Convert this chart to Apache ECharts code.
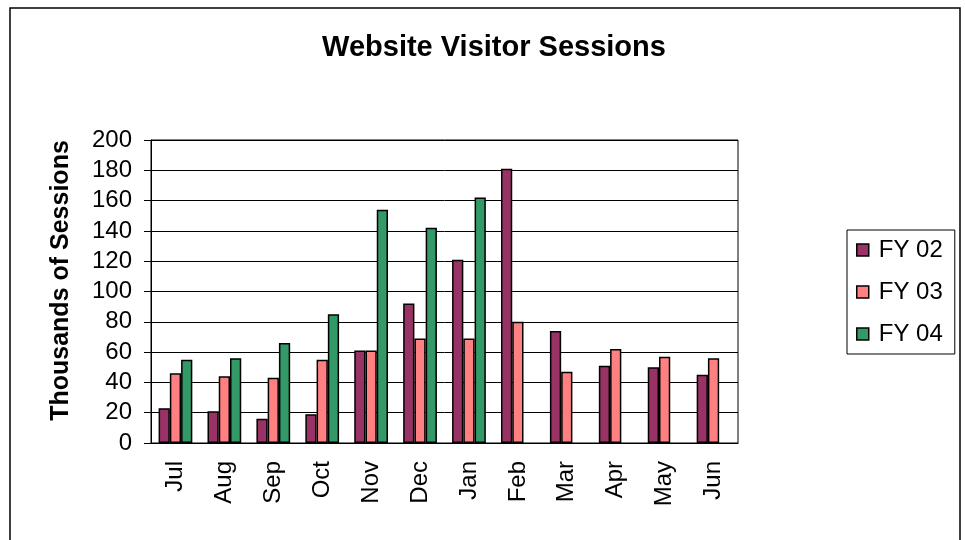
<!DOCTYPE html>
<html>
<head>
<meta charset="utf-8">
<script src="https://cdn.jsdelivr.net/npm/echarts@6/dist/echarts.min.js"></script>
<style>
  html, body { margin: 0; padding: 0; background: #fff; }
  #main { width: 965px; height: 540px; }
</style>
</head>
<body>
<div id="main"></div>
<script>
var months = ["Jul", "Aug", "Sep", "Oct", "Nov", "Dec", "Jan", "Feb", "Mar", "Apr", "May", "Jun"];
var fy02 = [23, 21, 16, 19, 61, 92, 121, 181, 74, 51, 50, 45];
var fy03 = [46, 44, 43, 55, 61, 69, 69, 80, 47, 62, 57, 56];
var fy04 = [55, 56, 66, 85, 154, 142, 162, null, null, null, null, null];
var yTicks = [0, 20, 40, 60, 80, 100, 120, 140, 160, 180, 200];

var font = "Liberation Sans, Arial, sans-serif";
var chart = echarts.init(document.getElementById("main"));

function barSeries(name, data, color) {
  return {
    name: name,
    type: "bar",
    data: data,
    barGap: "0%",
    barCategoryGap: "31%",
    itemStyle: { color: color, borderColor: "#000", borderWidth: 1.5 }
  };
}

var option = {
  animation: false,
  backgroundColor: "#fff",
  textStyle: { fontFamily: font, color: "#000" },
  graphic: [{
    type: "rect",
    shape: { x: 10, y: 8, width: 950, height: 560 },
    style: { fill: "none", stroke: "#000", lineWidth: 1.5 },
    silent: true
  }],
  title: {
    text: "Website Visitor Sessions",
    left: 489,
    textAlign: "center",
    top: 28,
    textStyle: { fontFamily: font, fontSize: 29, fontWeight: "bold", color: "#000" }
  },
  legend: {
    orient: "vertical",
    left: 847,
    top: 230,
    padding: [8, 12, 8, 9],
    itemGap: 18,
    itemWidth: 12,
    itemHeight: 12,
    icon: "rect",
    borderColor: "#000",
    borderWidth: 1,
    itemStyle: { borderColor: "#000", borderWidth: 1.5 },
    textStyle: { fontFamily: font, fontSize: 24, color: "#000", padding: [0, 0, 0, 5] },
    data: ["FY 02", "FY 03", "FY 04"]
  },
  grid: {
    left: 151, top: 140, right: 227, bottom: 97,
    show: true, borderColor: "#000", borderWidth: 1
  },
  xAxis: {
    type: "category",
    data: months,
    axisLine: { lineStyle: { color: "#000", width: 1 } },
    axisTick: { length: 8, lineStyle: { color: "#000" } },
    axisLabel: { rotate: 90, fontSize: 24, margin: 18, color: "#000", fontFamily: font }
  },
  yAxis: {
    type: "value",
    min: yTicks[0],
    max: yTicks[yTicks.length - 1],
    interval: 20,
    name: "Thousands of Sessions",
    nameLocation: "middle",
    nameGap: 77,
    nameTextStyle: { fontFamily: font, fontSize: 25, fontWeight: "bold", color: "#000", padding: [0, 0, 0, 22] },
    axisLine: { show: true, lineStyle: { color: "#000", width: 1 } },
    axisTick: { show: true, length: 7, lineStyle: { color: "#000" } },
    axisLabel: { fontSize: 24, margin: 19, color: "#000", fontFamily: font },
    splitLine: { lineStyle: { color: "#000", width: 1 } }
  },
  series: [
    barSeries("FY 02", fy02, "#993366"),
    barSeries("FY 03", fy03, "#FF8080"),
    barSeries("FY 04", fy04, "#339966")
  ]
};

chart.setOption(option);
</script>
</body>
</html>
